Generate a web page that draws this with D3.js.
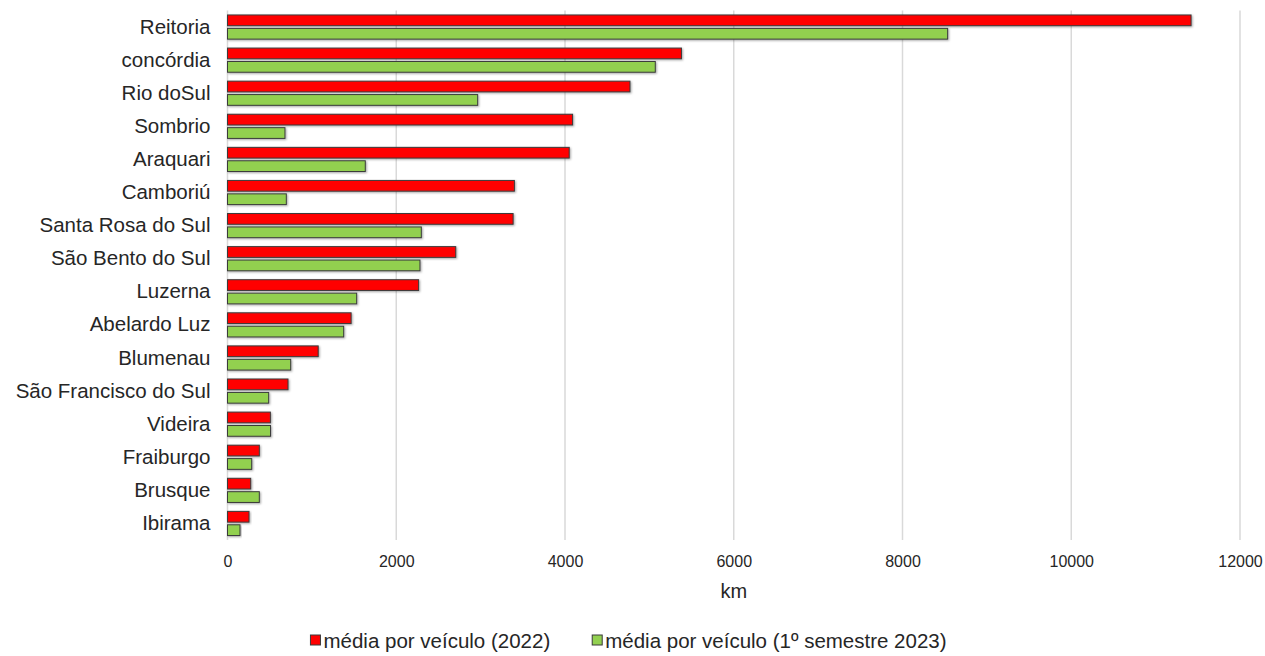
<!DOCTYPE html>
<html>
<head>
<meta charset="utf-8">
<script src="https://cdn.jsdelivr.net/npm/d3@7"></script>
<style>
  body { margin: 0; background: #fff; }
  text { font-family: "Liberation Sans", Arial, sans-serif; fill: #262626; }
</style>
</head>
<body>
<svg id="chart"></svg>
<script>
// campus names, top to bottom
const categories = ["Reitoria", "concórdia", "Rio doSul", "Sombrio", "Araquari", "Camboriú",
    "Santa Rosa do Sul", "São Bento do Sul", "Luzerna", "Abelardo Luz", "Blumenau",
    "São Francisco do Sul", "Videira", "Fraiburgo", "Brusque", "Ibirama"];

const series = ["média por veículo (2022)", "média por veículo (1º semestre 2023)"];

const media2022 = [11420, 5380, 4770, 4090, 4050, 3400, 3385, 2705, 2265, 1465, 1075, 717, 508, 377, 275, 255];
const media2023 = [8535, 5070, 2965, 681, 1633, 697, 2297, 2281, 1531, 1377, 749, 488, 510, 287, 377, 148];

const xTicks = [0, 2000, 4000, 6000, 8000, 10000, 12000];

const colors = ["#ff0000", "#92d050"];

const width = 1265, height = 656;
const margin = {top: 10.5, right: 25, bottom: 116, left: 227.5};

const svg = d3.select("#chart")
    .attr("width", width)
    .attr("height", height);

const defs = svg.append("defs");
const shadow = defs.append("filter").attr("id", "shadow")
    .attr("x", "-5%").attr("y", "-30%").attr("width", "115%").attr("height", "180%");
shadow.append("feDropShadow")
    .attr("dx", 1).attr("dy", 1).attr("stdDeviation", 0.8)
    .attr("flood-color", "#000").attr("flood-opacity", 0.35);

const x = d3.scaleLinear()
    .domain([0, 12000])
    .range([margin.left, width - margin.right]);

const y0 = d3.scaleBand()
    .domain(categories)
    .range([margin.top, height - margin.bottom])
    .paddingInner(0.27)
    .paddingOuter(0.135);

const y1 = d3.scaleBand()
    .domain([0, 1])
    .range([0, y0.bandwidth()])
    .paddingInner(0.2);

// gridlines
svg.append("g")
    .selectAll("line")
    .data(xTicks)
    .join("line")
    .attr("x1", d => x(d)).attr("x2", d => x(d))
    .attr("y1", margin.top).attr("y2", height - margin.bottom)
    .attr("stroke", "#d9d9d9")
    .attr("stroke-width", 1.5);

// x tick labels
const xAxis = svg.append("g")
    .attr("transform", `translate(0, ${height - margin.bottom})`)
    .call(d3.axisBottom(x).tickValues(xTicks).tickFormat(d3.format("d")).tickSize(0).tickPadding(16));
xAxis.select(".domain").remove();
xAxis.selectAll("text")
    .style("font-size", "16px")
    .style("font-family", "'Liberation Sans', Arial, sans-serif")
    .attr("fill", "#262626");

// category labels
const yAxis = svg.append("g")
    .attr("transform", `translate(${margin.left - 17}, 0)`)
    .call(d3.axisLeft(y0).tickSize(0).tickPadding(0));
yAxis.select(".domain").remove();
yAxis.selectAll("text")
    .style("font-size", "20.5px")
    .style("font-family", "'Liberation Sans', Arial, sans-serif")
    .attr("fill", "#262626");

// bars
const rows = categories.map((c, i) => ({cat: c, vals: [media2022[i], media2023[i]]}));

const groups = svg.append("g")
    .selectAll("g")
    .data(rows)
    .join("g")
    .attr("transform", d => `translate(0, ${y0(d.cat)})`);

groups.selectAll("rect")
    .data(d => d.vals.map((v, k) => ({k: k, v: v})))
    .join("rect")
    .attr("x", x(0))
    .attr("y", d => y1(d.k))
    .attr("width", d => x(d.v) - x(0))
    .attr("height", y1.bandwidth())
    .attr("fill", d => colors[d.k])
    .attr("stroke", "#3a3a3a")
    .attr("stroke-width", 1)
    .attr("filter", "url(#shadow)");

// axis title
svg.append("text")
    .attr("x", (x(0) + x(12000)) / 2)
    .attr("y", 598)
    .attr("text-anchor", "middle")
    .style("font-size", "20px")
    .text("km");

// legend
const legend = svg.append("g");
const items = legend.selectAll("g")
    .data(series)
    .join("g");
items.append("rect")
    .attr("width", 10).attr("height", 10)
    .attr("y", -13)
    .attr("fill", (d, i) => colors[i])
    .attr("stroke", "#3a3a3a")
    .attr("stroke-width", 1);
items.append("text")
    .attr("x", 13)
    .attr("y", 0)
    .style("font-size", "20.5px")
    .text(d => d);

let offset = 0;
items.each(function() {
    d3.select(this).attr("transform", `translate(${offset}, 648)`);
    offset += this.getBBox().width + 42;
});
const totalW = offset - 42;
legend.attr("transform", `translate(${(width - totalW) / 2 - 4}, 0)`);
</script>
</body>
</html>
